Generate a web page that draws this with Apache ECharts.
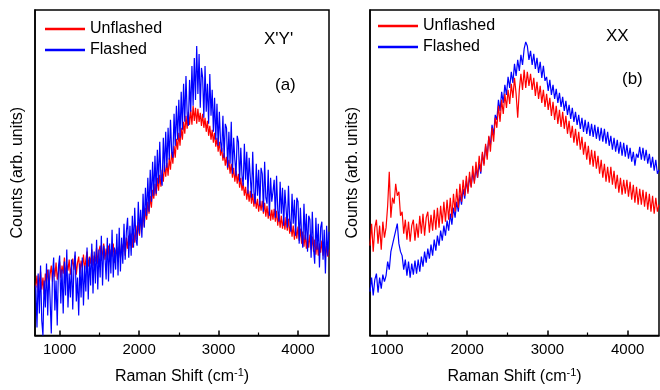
<!DOCTYPE html>
<html>
<head>
<meta charset="utf-8">
<script src="https://cdn.jsdelivr.net/npm/echarts@6/dist/echarts.min.js"></script>
<style>html,body{margin:0;padding:0;background:#fff}#c{width:660px;height:390px}</style>
</head>
<body>
<div id="c"></div>
<script>
// Raman shift sampling grids (cm^-1)
const shiftA = []; for (let i = 0; i < 247; i++) shiftA.push(700 + 15 * i);
const shiftB = []; for (let i = 0; i < 181; i++) shiftB.push(790 + 20 * i);

// Panel (a) X'Y' counts (arb. units)
const unflashedA = [
 48,60,43,55,64,46,58,41,62,53,
 66,50,61,70,54,68,59,73,56,64,
 74,58,70,62,78,60,71,65,76,61,
 63,77,66,80,61,73,79,62,75,68,
 81,66,76,84,69,79,72,86,70,80,
 74,88,72,85,90,75,83,92,76,87,
 77,90,74,86,79,92,73,85,88,75,
 89,78,92,84,96,80,98,87,100,90,
 102,88,104,93,110,96,114,100,118,106,
 122,109,128,116,134,122,140,128,146,137,
 152,140,158,145,161,149,166,154,171,159,
 173,160,178,166,184,172,190,178,197,186,
 203,190,208,196,214,202,220,207,224,211,
 226,211,230,215,228,212,227,214,223,210,
 222,208,218,204,215,200,210,196,206,193,
 203,189,198,184,194,180,188,175,183,170,
 179,166,176,162,172,158,168,154,165,152,
 162,148,158,145,153,140,149,136,146,134,
 145,132,142,129,139,127,137,124,135,125,
 135,122,133,119,130,117,128,115,126,116,
 127,114,125,110,122,108,120,107,118,106,
 119,105,117,102,113,99,110,96,108,97,
 109,95,107,92,104,89,101,87,99,88,
 101,86,99,84,96,81,94,80,92,83,
 95,80,92,78,90,79,86
];
const flashedA = [
 50,8,62,22,70,15,0,55,28,72,
 20,66,36,2,60,78,25,55,10,68,
 80,32,66,22,74,40,86,28,62,38,
 76,26,68,84,34,58,20,72,38,78,
 30,70,44,88,36,78,50,92,42,84,
 52,96,46,86,58,100,50,90,80,56,
 98,54,92,62,106,58,88,66,102,60,
 108,64,98,72,112,76,104,118,78,110,
 80,120,88,128,96,90,134,102,126,98,
 142,108,148,120,158,124,166,134,174,140,
 180,142,186,152,194,158,150,198,164,204,
 168,208,176,216,184,178,222,190,230,196,
 236,198,244,206,252,214,260,222,210,256,
 224,270,230,278,236,290,242,282,228,268,
 258,218,270,224,252,212,262,220,246,204,
 238,196,232,190,224,194,184,220,178,212,
 208,168,204,172,214,162,198,176,160,200,
 194,154,188,160,150,192,156,184,142,178,
 176,138,184,144,132,172,140,166,130,168,
 162,124,174,138,132,166,120,158,134,144,
 156,118,160,126,114,154,122,148,110,146,
 144,108,150,116,104,142,112,136,100,138,
 134,92,128,102,88,132,96,122,84,120,
 116,78,124,88,72,118,86,112,68,108,
 114,76,106,62,110,80,104
];

// Panel (b) XX counts (arb. units)
const unflashedB = [
 90,112,84,108,116,92,110,86,114,98,
 108,130,164,118,138,132,152,140,144,120,
 124,102,116,96,114,94,110,116,95,112,
 98,120,102,122,100,118,124,103,121,105,
 126,106,128,108,130,112,134,114,136,116,
 138,118,142,124,147,128,152,134,156,140,
 160,142,164,148,170,152,174,158,180,164,
 184,170,192,176,200,184,208,194,218,208,
 230,214,236,222,242,228,246,232,252,238,
 258,242,218,246,262,246,266,248,264,250,
 262,246,258,240,254,237,250,233,246,229,
 242,226,238,220,234,216,230,212,226,209,
 224,207,220,202,215,198,210,193,207,190,
 204,186,199,181,194,176,190,171,186,169,
 185,167,180,162,176,158,172,154,169,153,
 169,151,165,147,161,143,158,141,156,142,
 156,139,154,136,151,133,149,131,147,131,
 146,129,144,126,142,124,140,122,138,124,
 131
];
const flashedB = [
 44,58,40,56,62,43,58,47,61,54,
 60,74,66,84,82,98,100,112,92,84,
 80,66,76,60,74,58,72,61,75,62,
 76,64,79,69,84,73,87,77,91,80,
 96,85,100,90,105,95,110,100,115,105,
 122,111,128,118,134,124,141,131,147,137,
 155,144,159,149,163,154,167,158,172,162,
 182,172,190,180,199,190,211,201,221,216,
 236,225,244,233,251,241,259,248,264,253,
 272,260,276,265,281,271,287,294,290,276,
 285,271,282,267,278,263,274,258,270,255,
 259,245,256,241,251,237,247,233,243,229,
 239,225,235,221,231,217,228,214,224,211,
 221,207,218,204,216,202,214,200,212,199,
 211,197,209,195,208,194,207,192,204,190,
 200,186,198,184,196,182,194,180,193,179,
 191,177,188,174,184,170,182,178,189,176,
 188,175,186,172,182,168,179,165,176,162,
 166
];

const xMajorTicks = [1000, 2000, 3000, 4000];
const xMinorTicks = [1500, 2500, 3500];
const seriesNames = ['Unflashed', 'Flashed'];
const panelTags = ["X'Y'", 'XX'];
const panelLetters = ['(a)', '(b)'];

function pairs(xs, ys) {
  const n = Math.min(xs.length, ys.length);
  const out = [];
  for (let i = 0; i < n; i++) out.push([xs[i], ys[i]]);
  return out;
}

const FONT = 'Liberation Sans, Arial, sans-serif';
const chart = echarts.init(document.getElementById('c'), null, { renderer: 'canvas' });

function majorAxis(grid, min, max) {
  return {
    type: 'value', gridIndex: grid, min: min, max: max, position: 'bottom',
    axisLine: { show: true, onZero: false, lineStyle: { color: '#000', width: 1.5 } },
    axisTick: { show: true, inside: true, length: 5, customValues: xMajorTicks, lineStyle: { color: '#000', width: 1.5 } },
    axisLabel: { show: true, customValues: xMajorTicks, margin: 7, color: '#000', fontSize: 15, fontFamily: FONT,
      formatter: function (v) { return String(v); } },
    splitLine: { show: false },
    name: 'Raman Shift (cm{sup|-1})', nameLocation: 'middle', nameGap: 32,
    nameTextStyle: { color: '#000', fontSize: 16, fontFamily: FONT,
      rich: { sup: { fontSize: 11, fontFamily: FONT, color: '#000', verticalAlign: 'top', padding: [0, 0, 8, 0] } } }
  };
}
function minorAxis(grid, min, max) {
  return {
    type: 'value', gridIndex: grid, min: min, max: max, position: 'bottom',
    axisLine: { show: false, onZero: false },
    axisTick: { show: true, inside: true, length: 3, customValues: xMinorTicks, lineStyle: { color: '#000', width: 1.2 } },
    axisLabel: { show: false },
    splitLine: { show: false }
  };
}
function yAxis(grid) {
  return {
    type: 'value', gridIndex: grid, min: 0, max: 326,
    axisLine: { show: true, onZero: false, lineStyle: { color: '#000', width: 1.5 } },
    axisTick: { show: false }, axisLabel: { show: false }, splitLine: { show: false },
    name: 'Counts (arb. units)', nameLocation: 'middle', nameGap: 9,
    nameTextStyle: { color: '#000', fontSize: 16, fontFamily: FONT }
  };
}
function lineSeries(name, color, xi, yi, data, z) {
  return {
    type: 'line', name: name, xAxisIndex: xi, yAxisIndex: yi, data: data,
    showSymbol: false, symbol: 'none', animation: false, z: z,
    lineStyle: { color: color, width: 1.2 }, itemStyle: { color: color }
  };
}
function legend(left, top) {
  return {
    data: seriesNames, orient: 'vertical', left: left, top: top,
    icon: 'rect', itemWidth: 40, itemHeight: 2.5, itemGap: 5,
    textStyle: { color: '#000', fontSize: 16, fontFamily: FONT },
    selectedMode: false
  };
}

chart.setOption({
  backgroundColor: '#fff',
  animation: false,
  grid: [
    { left: 35, top: 10, width: 294, height: 326, show: true, borderColor: '#000', borderWidth: 1.5, backgroundColor: 'transparent' },
    { left: 370, top: 10, width: 289, height: 326, show: true, borderColor: '#000', borderWidth: 1.5, backgroundColor: 'transparent' }
  ],
  xAxis: [ majorAxis(0, 690, 4390), minorAxis(0, 690, 4390), majorAxis(1, 790, 4390), minorAxis(1, 790, 4390) ],
  yAxis: [ yAxis(0), yAxis(1) ],
  legend: [ legend(40, 16), legend(373, 13) ],
  series: [
    lineSeries(seriesNames[0], '#ff0000', 0, 0, pairs(shiftA, unflashedA), 2),
    lineSeries(seriesNames[1], '#0000ff', 0, 0, pairs(shiftA, flashedA), 3),
    lineSeries(seriesNames[1], '#0000ff', 2, 1, pairs(shiftB, flashedB), 2),
    lineSeries(seriesNames[0], '#ff0000', 2, 1, pairs(shiftB, unflashedB), 3)
  ],
  graphic: [
    { type: 'text', left: 264, top: 31, style: { text: panelTags[0], fontSize: 17, fontFamily: FONT, fill: '#000' } },
    { type: 'text', left: 275, top: 77, style: { text: panelLetters[0], fontSize: 17, fontFamily: FONT, fill: '#000' } },
    { type: 'text', left: 606, top: 28, style: { text: panelTags[1], fontSize: 17, fontFamily: FONT, fill: '#000' } },
    { type: 'text', left: 622, top: 71, style: { text: panelLetters[1], fontSize: 17, fontFamily: FONT, fill: '#000' } }
  ]
});
</script>
</body>
</html>
